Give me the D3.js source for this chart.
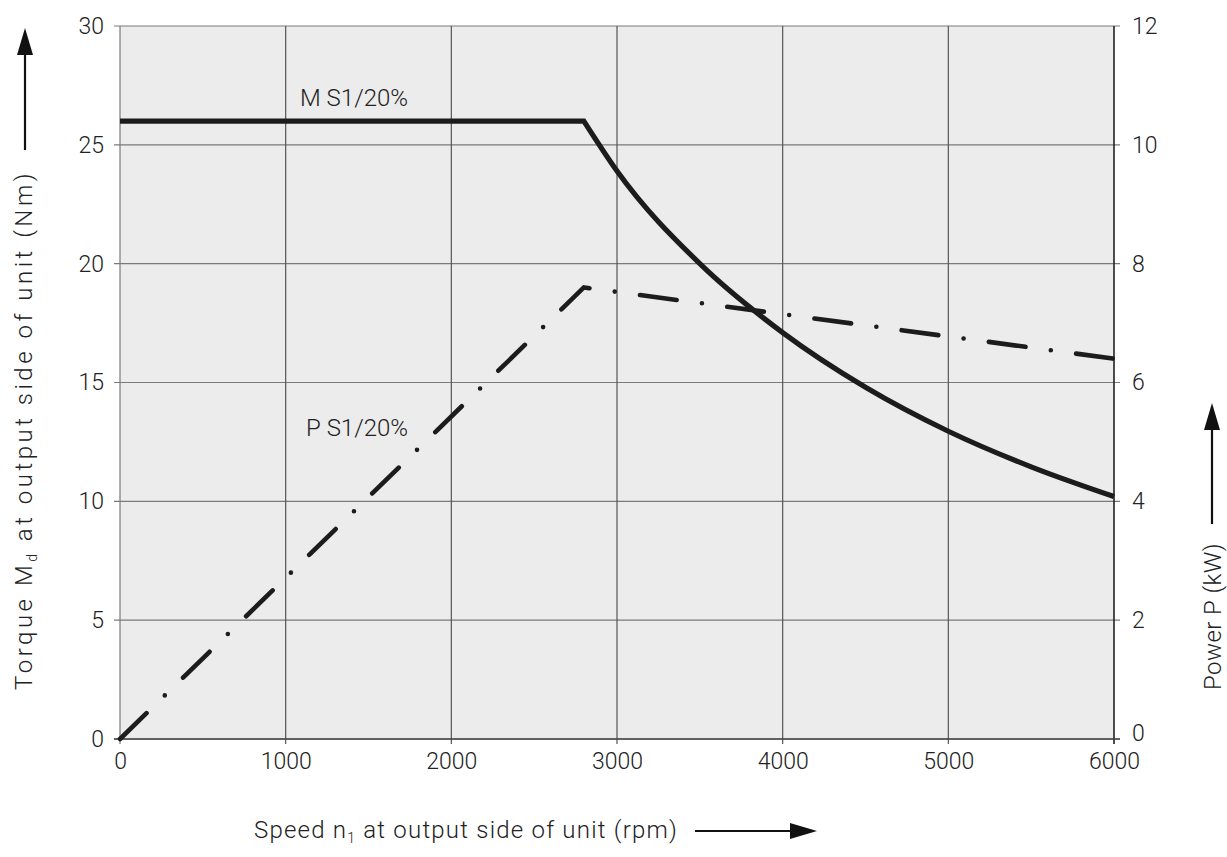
<!DOCTYPE html>
<html lang="en">
<head>
    <meta charset="UTF-8">
    <title>Torque and power vs speed</title>
    <script src="https://d3js.org/d3.v7.min.js"></script>
    <style>
        body { margin: 0; background: #fff; }
        text { font-family: Roboto, "Liberation Sans", sans-serif; font-weight: 300; fill: #222; }
    </style>
</head>
<body>
    <svg width="1227" height="857"></svg>
    <script>
        // torque curve S1/20% (Nm)
        const torqueSpeed = [0, 2800, 3000, 3500, 4000, 4500, 5000, 5500, 6000];
        const torque = [26, 26, 23.9, 20.0, 17.1, 14.8, 12.95, 11.45, 10.2];

        // power curve S1/20% (kW)
        const powerSpeed = [0, 2800, 6000];
        const power = [0, 7.6, 6.4];

        const xTicks = [0, 1000, 2000, 3000, 4000, 5000, 6000];
        const torqueTicks = [0, 5, 10, 15, 20, 25, 30];
        const powerTicks = [0, 2, 4, 6, 8, 10, 12];

        const svg = d3.select("svg");

        const x = d3.scaleLinear().domain([0, 6000]).range([120, 1114]);
        const yL = d3.scaleLinear().domain([0, 30]).range([739, 26]);
        const yR = d3.scaleLinear().domain([0, 12]).range([739, 26]);

        // plot background
        svg.append("rect")
            .attr("x", x(0)).attr("y", yL(30))
            .attr("width", x(6000) - x(0)).attr("height", yL(0) - yL(30))
            .attr("fill", "#ececec");

        // horizontal grid (also gives the outer ticks)
        svg.append("g").selectAll("line")
            .data(torqueTicks)
            .enter().append("line")
            .attr("x1", x(0) - 6).attr("x2", x(6000) + 6)
            .attr("y1", d => yL(d)).attr("y2", d => yL(d))
            .attr("stroke", "#7a7a7a").attr("stroke-width", 1.2);

        // vertical grid
        svg.append("g").selectAll("line")
            .data(xTicks.slice(1, -1))
            .enter().append("line")
            .attr("x1", d => x(d)).attr("x2", d => x(d))
            .attr("y1", yL(30)).attr("y2", yL(0) + 5)
            .attr("stroke", "#555").attr("stroke-width", 1.2);

        // frame
        svg.append("line")
            .attr("x1", x(0)).attr("x2", x(0)).attr("y1", yL(30)).attr("y2", yL(0) + 5)
            .attr("stroke", "#7a7a7a").attr("stroke-width", 1.2);
        svg.append("line")
            .attr("x1", x(6000)).attr("x2", x(6000)).attr("y1", yL(30)).attr("y2", yL(0) + 5)
            .attr("stroke", "#222").attr("stroke-width", 1.6);
        svg.append("line")
            .attr("x1", x(0) - 6).attr("x2", x(6000) + 6).attr("y1", yL(0)).attr("y2", yL(0))
            .attr("stroke", "#444").attr("stroke-width", 1.4);

        // axes (labels only, lines drawn above)
        const axB = svg.append("g")
            .attr("transform", `translate(0,${yL(0)})`)
            .call(d3.axisBottom(x).tickValues(xTicks).tickFormat(d3.format("d")).tickSize(0).tickPadding(14));
        const axL = svg.append("g")
            .attr("transform", `translate(${x(0)},0)`)
            .call(d3.axisLeft(yL).tickValues(torqueTicks).tickSize(0).tickPadding(16));
        const axR = svg.append("g")
            .attr("transform", `translate(${x(6000)},0)`)
            .call(d3.axisRight(yR).tickValues(powerTicks).tickSize(0).tickPadding(18));

        [axB, axL, axR].forEach(g => {
            g.select(".domain").remove();
            g.selectAll("text").attr("font-size", 23).attr("font-family", null).attr("fill", "#222");
        });
        axR.selectAll(".tick").filter(d => d === 0).select("text").attr("dy", "0.05em");

        // torque line: straight up to the knee, then curved
        const knee = torqueSpeed.indexOf(2800);
        const tail = d3.line()
            .x(d => x(d[0])).y(d => yL(d[1]))
            .curve(d3.curveMonotoneX)(torqueSpeed.slice(knee).map((s, i) => [s, torque[knee + i]]));
        const head = `M${x(torqueSpeed[0])},${yL(torque[0])}`;
        svg.append("path")
            .attr("d", head + tail.replace(/^M/, "L"))
            .attr("fill", "none").attr("stroke", "#1c1c1c")
            .attr("stroke-width", 5.2).attr("stroke-linejoin", "miter");

        // power line, dash-dot
        const powerLine = d3.line().x(d => x(d[0])).y(d => yR(d[1]));
        svg.append("path")
            .attr("d", powerLine(powerSpeed.map((s, i) => [s, power[i]])))
            .attr("fill", "none").attr("stroke", "#1c1c1c")
            .attr("stroke-width", 4.6)
            .attr("stroke-linecap", "round")
            .attr("stroke-dasharray", "37 25.5 0 25.5");

        // curve labels
        svg.append("text").attr("x", 300).attr("y", 106).attr("font-size", 24).text("M S1/20%");
        svg.append("text").attr("x", 306).attr("y", 436).attr("font-size", 24).text("P S1/20%");

        // axis titles, spread out to the width they take in the original
        function spread(t, target) {
            const n = t.text().length;
            const w = t.node().getComputedTextLength();
            t.attr("letter-spacing", Math.max(0, (target - w) / n));
        }

        const tL = svg.append("text")
            .attr("transform", "translate(32,690) rotate(-90)")
            .attr("font-size", 24);
        tL.append("tspan").text("Torque M");
        tL.append("tspan").attr("font-size", 14).attr("dy", 5).text("d");
        tL.append("tspan").attr("dy", -5).text(" at output side of unit (Nm)");
        spread(tL, 520);

        const tR = svg.append("text")
            .attr("transform", "translate(1221,690) rotate(-90)")
            .attr("font-size", 24)
            .text("Power P (kW)");
        spread(tR, 147);

        const tB = svg.append("text")
            .attr("x", 254).attr("y", 838)
            .attr("font-size", 24);
        tB.append("tspan").text("Speed n");
        tB.append("tspan").attr("font-size", 14).attr("dy", 5).text("1");
        tB.append("tspan").attr("dy", -5).text(" at output side of unit (rpm)");
        spread(tB, 424);

        // arrows
        function arrow(x1, y1, x2, y2) {
            const a = Math.atan2(y2 - y1, x2 - x1);
            const len = 27, hw = 8;
            const bx = x2 - len * Math.cos(a), by = y2 - len * Math.sin(a);
            svg.append("line")
                .attr("x1", x1).attr("y1", y1).attr("x2", bx).attr("y2", by)
                .attr("stroke", "#111").attr("stroke-width", 2.2);
            svg.append("polygon")
                .attr("points", [
                    [x2, y2],
                    [bx + hw * Math.sin(a), by - hw * Math.cos(a)],
                    [bx - hw * Math.sin(a), by + hw * Math.cos(a)]
                ].map(p => p.join(",")).join(" "))
                .attr("fill", "#111");
        }
        arrow(25, 150, 25, 28);
        arrow(1212, 524, 1212, 403);
        arrow(695, 831, 817, 831);
    </script>
</body>
</html>
